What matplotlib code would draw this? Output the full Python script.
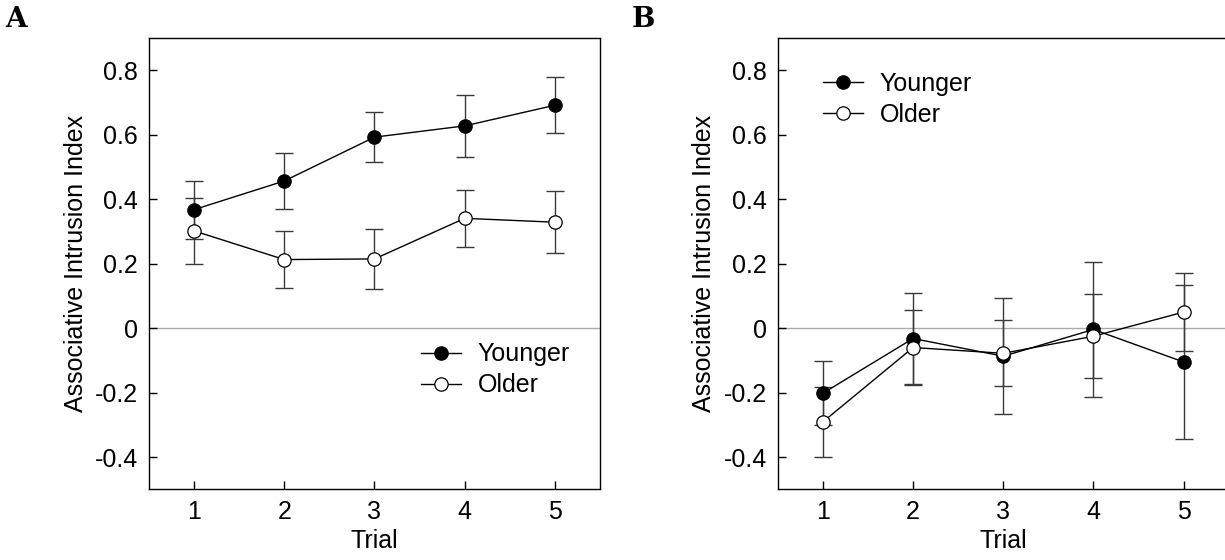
import matplotlib
matplotlib.use("Agg")
from matplotlib import pyplot as plt

plt.rcParams['font.family'] = ['Liberation Sans', 'DejaVu Sans']

trials = [1, 2, 3, 4, 5]
y_ticks = [-0.4, -0.2, 0.0, 0.2, 0.4, 0.6, 0.8]
y_tick_labels = ['-0.4', '-0.2', '0', '0.2', '0.4', '0.6', '0.8']

# panel A
a_younger = [0.368, 0.457, 0.593, 0.628, 0.692]
a_younger_err = [0.090, 0.087, 0.078, 0.097, 0.087]
a_older = [0.302, 0.213, 0.215, 0.341, 0.329]
a_older_err = [0.102, 0.088, 0.094, 0.089, 0.097]

# panel B
b_younger = [-0.202, -0.032, -0.087, -0.004, -0.105]
b_younger_err = [0.100, 0.140, 0.180, 0.210, 0.238]
b_older = [-0.291, -0.060, -0.078, -0.025, 0.050]
b_older_err = [0.108, 0.115, 0.102, 0.130, 0.120]

FS = 18
ERR_COLOR = '#3a3a3a'


def draw_panel(ax, younger, younger_err, older, older_err, legend_xy):
    ax.axhline(0, color='#aaaaaa', lw=1.0, zorder=1)
    for vals, errs, face, label in [(younger, younger_err, 'black', 'Younger'),
                                    (older, older_err, 'white', 'Older')]:
        ax.errorbar(trials, vals, yerr=errs, fmt='none', ecolor=ERR_COLOR,
                    elinewidth=1.0, capsize=6.4, capthick=1.0, zorder=2)
        ax.plot(trials, vals, color='black', lw=1.0, marker='o', ms=9.6,
                mfc=face, mec='black', mew=0.9, label=label, zorder=3)
    ax.set_xlim(0.5, 5.5)
    ax.set_ylim(-0.5, 0.9)
    ax.set_xticks(trials)
    ax.set_yticks(y_ticks)
    ax.set_yticklabels(y_tick_labels)
    ax.tick_params(direction='in', length=6, width=1.0, labelsize=FS, pad=8,
                   top=False, right=False)
    for s in ax.spines.values():
        s.set_linewidth(1.0)
    ax.set_xlabel('Trial', fontsize=FS, labelpad=3)
    ax.set_ylabel('Associative Intrusion Index', fontsize=FS, labelpad=5)
    ax.legend(loc='center left', bbox_to_anchor=legend_xy, frameon=False,
              fontsize=FS, handlelength=1.6, handletextpad=0.68,
              labelspacing=0.28, borderpad=0, borderaxespad=0, numpoints=1)


fig = plt.figure(figsize=(12.25, 5.6), dpi=100)
ax_a = fig.add_axes([0.1216, 0.1263, 0.3682, 0.8054])
ax_b = fig.add_axes([0.6349, 0.1263, 0.3682, 0.8054])

draw_panel(ax_a, a_younger, a_younger_err, a_older, a_older_err, (0.603, 0.2645))
draw_panel(ax_b, b_younger, b_younger_err, b_older, b_older_err, (0.0998, 0.865))

fig.text(0.004, 0.952, 'A', family='DejaVu Serif', weight='bold', fontsize=20)
fig.text(0.516, 0.952, 'B', family='DejaVu Serif', weight='bold', fontsize=20)

fig.savefig('out.png', dpi=100)
